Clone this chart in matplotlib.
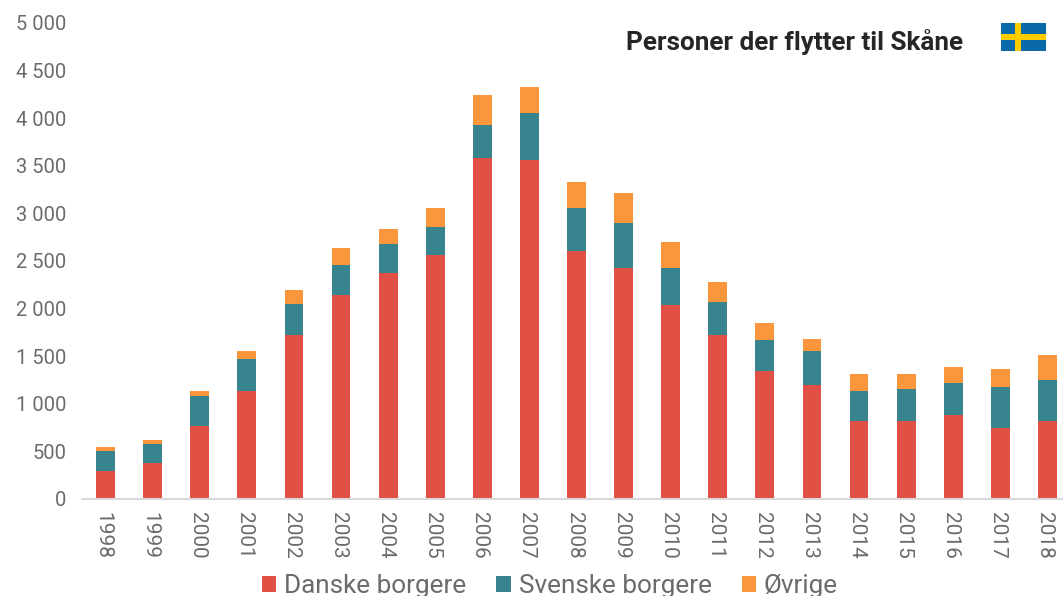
import numpy as np
import matplotlib
matplotlib.use('Agg')
import matplotlib.pyplot as plt
from matplotlib.patches import Rectangle
from matplotlib.transforms import ScaledTranslation

years = ['1998','1999','2000','2001','2002','2003','2004','2005','2006','2007','2008','2009','2010','2011','2012','2013','2014','2015','2016','2017','2018']
danske = [290,375,765,1130,1720,2140,2370,2560,3585,3565,2600,2430,2035,1720,1340,1195,815,815,880,745,815]
svenske = [210,205,315,340,325,320,305,295,345,485,460,470,390,345,330,355,320,340,335,430,440]
ovrige = [45,45,50,80,155,180,160,205,310,275,275,315,275,215,175,135,180,155,175,195,255]

plt.rcParams['font.family'] = ['Roboto', 'DejaVu Sans']

fig = plt.figure(figsize=(10.63, 5.96), dpi=100)
ax = fig.add_axes([82/1063, 1-499/596, (1063-82)/1063, (499-23)/596])

x = np.arange(len(years))
d = np.array(danske)
s = np.array(svenske)
o = np.array(ovrige)
ax.bar(x, d, 0.40, color='#E15044', label='Danske borgere')
ax.bar(x, s, 0.40, bottom=d, color='#37848F', label='Svenske borgere')
ax.bar(x, o, 0.40, bottom=d+s, color='#FB963C', label='Øvrige')

ax.set_xlim(-0.50, 20.33)
ax.set_ylim(0, 5000)
ax.set_xticks(x)
ax.set_xticklabels(years, rotation=-90, fontsize=15, color='#6B6B6B')
ax.set_yticks(range(0, 5001, 500))
ax.set_yticklabels([f'{v:,}'.replace(',', ' ') for v in range(0, 5001, 500)], fontsize=14.5, color='#6B6B6B')
ax.tick_params(axis='y', length=0, pad=11)
ax.tick_params(axis='x', length=0, pad=9)
# year labels sit a little left of the bar centre
shift = ScaledTranslation(-2.5/100, 0, fig.dpi_scale_trans)
for lab in ax.get_xticklabels():
    lab.set_transform(lab.get_transform() + shift)
for k in ['top','right','left']:
    ax.spines[k].set_visible(False)
ax.spines['bottom'].set_color('#D9D9D9')
ax.spines['bottom'].set_linewidth(1.5)

fig.text(795/1063, 1-42/596, 'Personer der flytter til Skåne', fontsize=18.8, fontweight='bold', color='#262626', ha='center', va='center')

# flag
fig.add_artist(Rectangle((1001/1063, 1-51/596), 45/1063, 28/596, transform=fig.transFigure, color='#0A69A8', lw=0))
fig.add_artist(Rectangle((1001/1063, 1-40/596), 45/1063, 6/596, transform=fig.transFigure, color='#FFCC00', lw=0))
fig.add_artist(Rectangle((1015/1063, 1-51/596), 6/1063, 28/596, transform=fig.transFigure, color='#FFCC00', lw=0))

fig.legend(loc='center', bbox_to_anchor=(550/1063, 1-586/596), ncol=3, frameon=False, fontsize=18.8, labelcolor='#6B6B6B',
           handlelength=0.55, handleheight=0.55, handletextpad=0.3, columnspacing=1.15)
fig.savefig('out.png', dpi=100)
